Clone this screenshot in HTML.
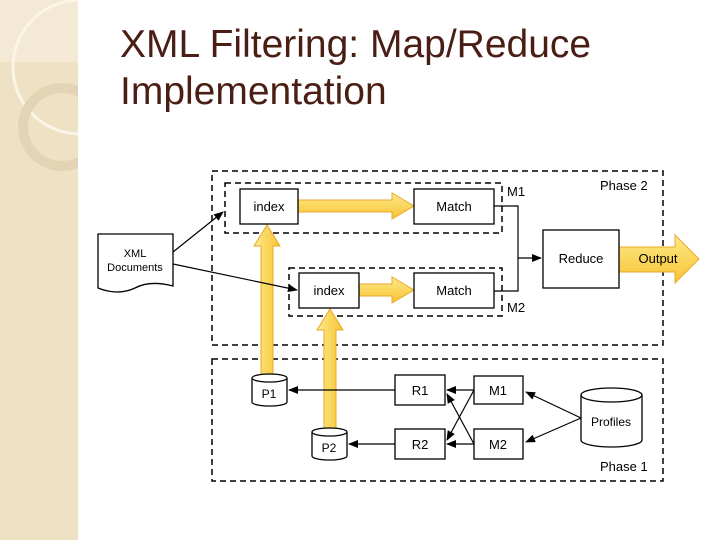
<!DOCTYPE html>
<html><head><meta charset="utf-8"><style>
body{margin:0;width:720px;height:540px;background:#fff;overflow:hidden;position:relative;font-family:"Liberation Sans",sans-serif}
.t{position:absolute;left:120px;color:#4a1e14;font-size:39px;line-height:47px;white-space:nowrap}
</style></head><body>
<svg style="position:absolute;left:0;top:0" width="720" height="540">
<defs>
<clipPath id="c"><rect x="0" y="0" width="78" height="540"/></clipPath>
<marker id="a" markerWidth="10" markerHeight="8" refX="9" refY="4" orient="auto" markerUnits="userSpaceOnUse"><path d="M0,0 L10,4 L0,8z" fill="#000"/></marker>
<linearGradient id="y" x1="0" y1="0" x2="0" y2="1"><stop offset="0" stop-color="#fde98a"/><stop offset="1" stop-color="#f7c431"/></linearGradient>
<linearGradient id="yv" x1="0" y1="0" x2="1" y2="0"><stop offset="0" stop-color="#fde98a"/><stop offset="1" stop-color="#f7c431"/></linearGradient>
</defs>
<rect x="0" y="0" width="78" height="540" fill="#efe2c4"/>
<g clip-path="url(#c)">
<rect x="0" y="0" width="78" height="62" fill="#f3e9d4"/>
<circle cx="80" cy="67" r="67" fill="none" stroke="#fbf5e6" stroke-width="3"/>
<circle cx="62" cy="127" r="39" fill="none" stroke="#e2d4b4" stroke-width="10"/>
</g>
<g fill="none" stroke="#000" stroke-width="1.5" stroke-dasharray="6,4">
<rect x="212" y="171" width="451" height="174"/>
<rect x="212" y="359" width="451" height="122"/>
<rect x="225" y="183" width="277" height="50"/>
<rect x="289" y="268" width="213" height="48"/>
</g>
<g font-size="13" fill="#000">
<text x="600" y="190">Phase 2</text><text x="600" y="471">Phase 1</text>
<text x="507" y="196">M1</text><text x="507" y="312">M2</text>
</g>
<g stroke="#e8a92a" stroke-width="1">
<path d="M298,200 H392 V193 L414,206 L392,219 V212 H298z" fill="url(#y)"/>
<path d="M359,284 H392 V277 L414,290 L392,303 V296 H359z" fill="url(#y)"/>
<path d="M261,378 V246 H254 L267,225 L280,246 H273 V378z" fill="url(#yv)"/>
<path d="M324,430 V330 H317 L330,309 L343,330 H336 V430z" fill="url(#yv)"/>
<path d="M619,247 H675 V235 L699,259 L675,283 V272 H619z" fill="url(#y)"/>
</g>
<g fill="#fff" stroke="#000" stroke-width="1.3">
<rect x="240" y="189" width="58" height="35"/><rect x="414" y="189" width="80" height="35"/>
<rect x="299" y="273" width="60" height="35"/><rect x="414" y="273" width="80" height="35"/>
<rect x="543" y="230" width="76" height="58"/>
<rect x="395" y="375" width="50" height="30"/><rect x="474" y="376" width="49" height="28"/>
<rect x="395" y="429" width="50" height="30"/><rect x="474" y="429" width="49" height="30"/>
<path d="M252,378 V402 A17.5,4 0 0 0 287,402 V378"/><ellipse cx="269.5" cy="378" rx="17.5" ry="4"/>
<path d="M312,432 V456 A17.5,4 0 0 0 347,456 V432"/><ellipse cx="329.5" cy="432" rx="17.5" ry="4"/>
<path d="M581,395 V440 A30.5,7 0 0 0 642,440 V395"/><ellipse cx="611.5" cy="395" rx="30.5" ry="7"/>
<path d="M98,234 H173 V286 Q150,280 135,288 Q118,296 98,288z"/>
</g>
<g fill="none" stroke="#000" stroke-width="1.2">
<path d="M494,206 H518 V291 H494"/>
<path d="M518,258 H541" marker-end="url(#a)"/>
<path d="M173,252 L223,212" marker-end="url(#a)"/>
<path d="M173,264 L297,290" marker-end="url(#a)"/>
<path d="M395,390 H289" marker-end="url(#a)"/>
<path d="M395,444 H349" marker-end="url(#a)"/>
<path d="M474,390 H447" marker-end="url(#a)"/>
<path d="M474,444 H447" marker-end="url(#a)"/>
<path d="M474,390 L447,440" marker-end="url(#a)"/>
<path d="M474,444 L447,394" marker-end="url(#a)"/>
<path d="M581,418 L526,392" marker-end="url(#a)"/>
<path d="M581,418 L526,442" marker-end="url(#a)"/>
</g>
<g font-size="13" fill="#000" text-anchor="middle">
<text x="269" y="211">index</text><text x="454" y="211">Match</text>
<text x="329" y="295">index</text><text x="454" y="295">Match</text>
<text x="581" y="263">Reduce</text><text x="658" y="263">Output</text>
<text x="420" y="395">R1</text><text x="498" y="395">M1</text>
<text x="420" y="449">R2</text><text x="498" y="449">M2</text>
<text x="269" y="398" font-size="12">P1</text><text x="329" y="452" font-size="12">P2</text>
<text x="611" y="426" font-size="12">Profiles</text>
<text x="135" y="257" font-size="11">XML</text><text x="135" y="271" font-size="11">Documents</text>
</g>
</svg>
<div class="t" style="top:21px">XML Filtering: Map/Reduce</div>
<div class="t" style="top:68px">Implementation</div>
</body></html>
